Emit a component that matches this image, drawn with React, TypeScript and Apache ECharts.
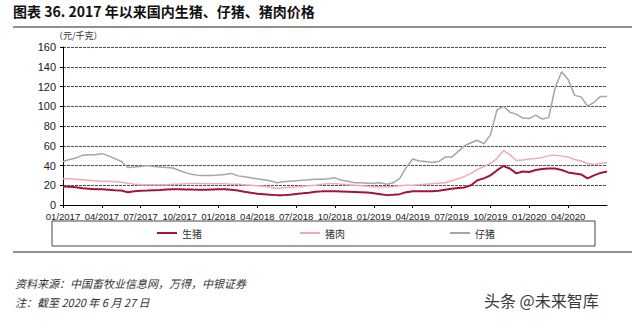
import React, { useEffect, useRef } from "react";
import * as echarts from "echarts";

// semi-monthly observation dates (1st and 16th of each month), last = 2020-06-27
const dates: string[] = (() => {
  const out: string[] = [];
  for (let y = 2017; y <= 2020; y++) {
    for (let m = 1; m <= 12; m++) {
      if (y === 2020 && m > 6) break;
      const mm = String(m).padStart(2, "0");
      out.push(`${y}-${mm}-01`);
      out.push(`${y}-${mm}-16`);
    }
  }
  out.push("2020-06-27");
  return out;
})();

const hog = [
  18.8, 18.5, 18, 17, 16.5, 16, 16, 15.5, 15, 14.7, 13, 14, 14.5, 14.7, 15, 15.3, 15.7, 16, 16, 15.8,
  15.6, 15.5, 15.5, 15.8, 16, 16, 15.5, 14.7, 13.5, 12.4, 11.5, 11, 10.3, 10, 10, 10.3, 11.2, 11.8, 12.5, 13.3,
  13.8, 13.8, 13.8, 13.6, 13.4, 13.2, 13, 12.7, 12, 11, 10, 10.3, 11, 13, 14, 14, 14, 14, 14.5, 15.5,
  16.5, 17.2, 17.8, 20, 25, 27, 30, 35, 39.5, 37, 32, 34, 33.5, 35.5, 36.5, 37, 37, 35.5, 33, 32,
  31, 27, 30, 32.5, 34,
];

const pork = [
  26.5, 26.5, 26, 25.5, 25, 24.5, 24, 24, 23.5, 23, 22, 21, 20.6, 20.6, 20.6, 20.6, 20.6, 21, 21, 21.5,
  21.8, 21.8, 21.5, 21.5, 21.5, 21.5, 21, 21, 20.5, 20, 19.5, 19, 18, 17, 17.5, 18, 18.5, 19, 19.5, 20,
  21, 21.5, 21.5, 21, 20.5, 20, 19.5, 19, 18.5, 18.5, 18.5, 18.8, 19.5, 20, 20, 20.5, 21, 21.5, 22, 22.5,
  24.5, 26.5, 29, 32, 36, 39, 42, 47, 55, 51, 45, 45.5, 46.5, 47, 48, 50, 50.5, 49.5, 48.5, 46,
  44.5, 42, 41, 42, 43,
];

const piglet = [
  44, 46, 47.5, 50.5, 51, 51, 52, 50, 47, 44, 38, 38.5, 39, 40, 39, 38.5, 38, 37.5, 35, 32.5,
  31, 30, 30, 30, 30.5, 31, 32, 29.5, 28.5, 27.5, 26.5, 25.5, 24.5, 22.5, 23.5, 24, 24.5, 25, 25.5, 26,
  26, 26.5, 27.5, 25, 24, 22.5, 22.5, 22, 22, 22.5, 21, 22.5, 27, 38, 46.5, 44.5, 44, 43, 44, 48.5,
  48.5, 54, 60, 63, 65.5, 62, 71, 96, 100, 94, 92, 88, 87.5, 91, 87, 88.5, 119, 135, 127, 111,
  109.5, 100, 104, 110, 110,
];

const seriesNames = ["生猪", "猪肉", "仔猪"];
const seriesColors = ["#A8123A", "#F2A9B4", "#A6A6A6"];
const yTicks = [0, 20, 40, 60, 80, 100, 120, 140, 160];

const title = "图表 36. 2017 年以来国内生猪、仔猪、猪肉价格";
const unitLabel = "（元/千克）";
const sourceText = "资料来源：中国畜牧业信息网，万得，中银证券";
const noteText = "注：截至 2020 年 6 月 27 日";
const watermark = "头条 @未来智库";

const CJK = '"Noto Sans CJK SC", "Liberation Sans", sans-serif';
const LAT = '"Liberation Sans", Arial, sans-serif';

const isQuarterStart = (v: string) => {
  const [, m, d] = v.split("-");
  return d === "01" && ["01", "04", "07", "10"].includes(m);
};

export default function App() {
  const ref = useRef<HTMLDivElement>(null);
  useEffect(() => {
    if (!ref.current) return;
    const chart = echarts.init(ref.current, null, { renderer: "svg" });
    const values = [hog, pork, piglet];
    const widths = [2, 1.5, 1.5];
    const legendLefts = [157, 300, 450];
    chart.setOption({
      animation: false,
      backgroundColor: "#ffffff",
      grid: { left: 63, right: 33, top: 47, bottom: 119, containLabel: false },
      xAxis: {
        type: "category",
        data: dates,
        boundaryGap: false,
        axisLine: { lineStyle: { color: "#000", width: 1 } },
        axisTick: {
          show: true,
          length: 3,
          interval: (i: number, v: string) => isQuarterStart(v),
          lineStyle: { color: "#000" },
        },
        axisLabel: {
          interval: (i: number, v: string) => isQuarterStart(v),
          formatter: (v: string) => {
            const [y, m] = v.split("-");
            return `${m}/${y}`;
          },
          fontFamily: LAT,
          fontSize: 9.5,
          color: "#222",
          margin: 6,
          hideOverlap: false,
        },
        splitLine: { show: false },
      },
      yAxis: {
        type: "value",
        min: yTicks[0],
        max: yTicks[yTicks.length - 1],
        interval: 20,
        axisLine: { show: true, lineStyle: { color: "#000", width: 1 } },
        axisTick: { show: true, length: 3, lineStyle: { color: "#000" } },
        axisLabel: { fontFamily: LAT, fontSize: 11, color: "#222", margin: 7 },
        splitLine: { show: true, lineStyle: { color: "#4d4d4d", width: 1, type: [3, 1] } },
      },
      legend: seriesNames.map((n, i) => ({
        data: [n],
        left: legendLefts[i],
        top: 228,
        icon: "rect",
        itemWidth: 20,
        itemHeight: 2,
        itemGap: 0,
        textStyle: { fontFamily: CJK, fontSize: 10, color: "#333" },
        padding: 0,
      })),
      series: seriesNames.map((n, i) => ({
        name: n,
        type: "line",
        data: values[i],
        showSymbol: false,
        symbol: "none",
        z: 3 - i,
        lineStyle: { color: seriesColors[i], width: widths[i] },
        itemStyle: { color: seriesColors[i] },
      })),
      graphic: [
        {
          type: "text",
          left: 13,
          top: 4,
          style: { text: title, fontFamily: CJK, fontSize: 14, fontWeight: "bold", fill: "#111" },
        },
        {
          type: "line",
          shape: { x1: 13, y1: 27, x2: 632, y2: 27 },
          style: { stroke: "#222", lineWidth: 1 },
        },
        {
          type: "text",
          left: 54,
          top: 31,
          style: { text: unitLabel, fontFamily: CJK, fontSize: 9, fill: "#333" },
        },
        {
          type: "rect",
          shape: { x: 52, y: 221, width: 543, height: 25 },
          style: { fill: "none", stroke: "#444", lineWidth: 1 },
        },
        {
          type: "line",
          shape: { x1: 13, y1: 252, x2: 632, y2: 252 },
          style: { stroke: "#222", lineWidth: 1 },
        },
        {
          type: "text",
          left: 15,
          top: 277,
          style: { text: sourceText, fontFamily: CJK, fontSize: 11, fontStyle: "italic", fill: "#333" },
        },
        {
          type: "text",
          left: 15,
          top: 296,
          style: { text: noteText, fontFamily: CJK, fontSize: 11, fontStyle: "italic", fill: "#333" },
        },
        {
          type: "text",
          left: 484,
          top: 292,
          style: { text: watermark, fontFamily: CJK, fontSize: 16, fill: "#3a3a3a" },
        },
      ],
    });
    return () => chart.dispose();
  }, []);
  return (
    <div
      ref={ref}
      style={{ position: "fixed", left: 0, top: 0, width: 640, height: 324, background: "#fff" }}
    />
  );
}
